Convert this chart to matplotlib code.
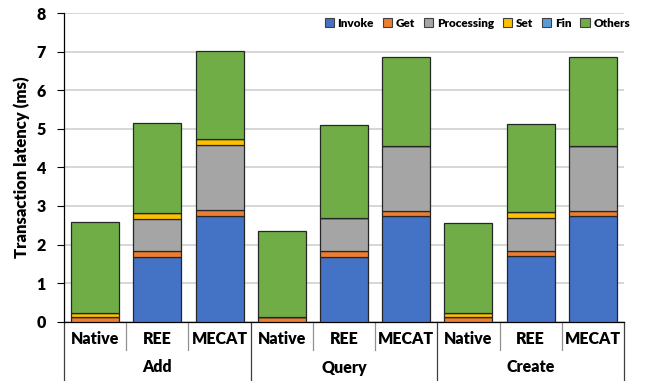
import matplotlib
matplotlib.use("Agg")
import matplotlib.pyplot as plt
from matplotlib.lines import Line2D
from matplotlib.patches import Patch
import numpy as np

groups = ["Add", "Query", "Create"]
systems = ["Native", "REE", "MECAT"]
components = ["Invoke", "Get", "Processing", "Set", "Fin", "Others"]
colors = ["#4472C4", "#ED7D31", "#A5A5A5", "#FFC000", "#5B9BD5", "#70AD47"]

# order: Add(Native, REE, MECAT), Query(...), Create(...)
invoke     = [0.00, 1.67, 2.74, 0.00, 1.68, 2.73, 0.00, 1.69, 2.73]
get        = [0.11, 0.17, 0.15, 0.13, 0.16, 0.15, 0.11, 0.15, 0.15]
processing = [0.00, 0.83, 1.68, 0.00, 0.84, 1.67, 0.00, 0.84, 1.67]
set_       = [0.12, 0.15, 0.16, 0.00, 0.00, 0.00, 0.12, 0.15, 0.00]
fin        = [0.00, 0.00, 0.00, 0.00, 0.00, 0.00, 0.00, 0.00, 0.00]
others     = [2.35, 2.34, 2.29, 2.23, 2.43, 2.32, 2.32, 2.30, 2.30]
series = [invoke, get, processing, set_, fin, others]

W = 800
plt.rcParams['font.family'] = ['Lato', 'DejaVu Sans']
plt.rcParams['font.weight'] = W

fig = plt.figure(figsize=(6.45, 3.81), dpi=100)
ax = fig.add_axes([64/645, (381-321.7)/381, (624-64)/645, (321.7-13)/381])

x = np.arange(len(invoke))
bottom = np.zeros(len(x))
for name, vals, c in zip(components, series, colors):
    ax.bar(x, vals, bottom=bottom, width=0.77, color=c, edgecolor="#262626",
           linewidth=0.9, zorder=3, label=name)
    bottom += np.array(vals)

ax.set_xlim(-0.5, len(x) - 0.5)
ax.set_ylim(0, 8)
ax.set_yticks(range(0, 9))
ax.tick_params(axis='y', direction='out', length=5, width=0.8, labelsize=11.5, pad=8)
for lab in ax.get_yticklabels():
    lab.set_fontweight(W)
ax.set_xticks([])
ax.grid(axis='y', color='#D0D0D0', linewidth=1.2, zorder=0)
ax.set_axisbelow(True)
for s in ['top', 'right']:
    ax.spines[s].set_visible(False)
ax.spines['left'].set_linewidth(0.9)
ax.spines['bottom'].set_linewidth(0.9)
ax.set_ylabel("Transaction latency (ms)", fontsize=12, fontweight=W, labelpad=5)

tr = ax.get_xaxis_transform()
h = 321.7 - 13
y_cat = (321.7 - 339) / h
y_grp = (321.7 - 367.5) / h
y_short = (321.7 - 350) / h
y_long = (321.7 - 381) / h
for i in range(len(x)):
    ax.text(x[i], y_cat, systems[i % 3], transform=tr, ha='center', va='center',
            fontsize=11.5, fontweight=W)
for g, name in enumerate(groups):
    ax.text(3 * g + 1, y_grp, name, transform=tr, ha='center', va='center',
            fontsize=11.5, fontweight=W)
for b in np.arange(-0.5, len(x), 1.0):
    k = int(round(b + 0.5))
    if k % 3 == 0:
        ax.add_line(Line2D([b, b], [0, y_long], transform=tr, color='#404040',
                           linewidth=0.9, clip_on=False))
    else:
        ax.add_line(Line2D([b, b], [0, y_short], transform=tr, color='#909090',
                           linewidth=0.9, clip_on=False))

handles = [Patch(facecolor=c, edgecolor='#404040', linewidth=0.8) for c in colors]
fig.legend(handles, components, loc='center right', bbox_to_anchor=(630/645, 1 - 23.5/381),
           ncol=6, frameon=False, handlelength=0.8, handleheight=0.8, handletextpad=0.3,
           columnspacing=0.75, prop={'size': 8.5, 'weight': W}, borderaxespad=0, borderpad=0)

fig.savefig("out.png", dpi=100)
